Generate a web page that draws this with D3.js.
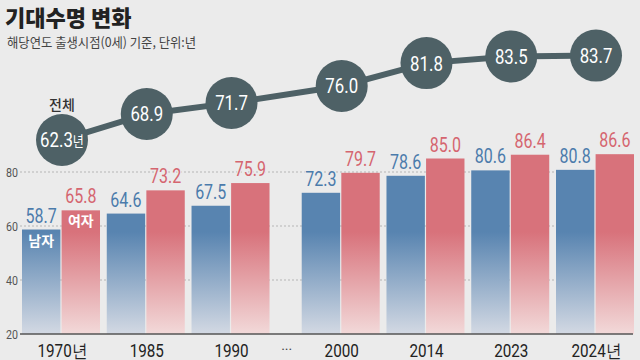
<!DOCTYPE html>
<html><head><meta charset="utf-8">
<script src="https://cdn.jsdelivr.net/npm/d3@7/dist/d3.min.js"></script>
<style>
html,body{margin:0;padding:0;background:#ebebeb;}
svg{display:block;}
</style></head>
<body>
<script>
const years = ["1970년","1985","1990","2000","2014","2023","2024년"];
const male = [58.7,64.6,67.5,72.3,78.6,80.6,80.8];
const female = [65.8,73.2,75.9,79.7,85.0,86.4,86.6];
const total = [62.3,68.9,71.7,76.0,81.8,83.5,83.7];
const yTicks = [20,40,60,80];

const W=640,H=360;
const NUM = "Roboto,'Liberation Sans',sans-serif";
const KR = "'Noto Sans CJK KR','Noto Sans',sans-serif";
const svg = d3.select("body").append("svg").attr("width",W).attr("height",H);
svg.append("rect").attr("width",W).attr("height",H).attr("fill","#ebebeb");

// scales
const breakAfter = 2, breakSize = 0.3;
const xi = d3.scaleLinear().domain([0, 6 + breakSize]).range([62, 596]);
const xc = i => xi(i + (i > breakAfter ? breakSize : 0));
const xSub = d3.scaleBand().domain(["m","f"]).range([-40,38]).paddingInner(0.03);
const y = d3.scaleLinear().domain([20,80]).range([334,172]);
const yT = d3.scaleLinear().domain([60,90]).range([149,30.8]);

const tr = (x,yy,s) => `translate(${x},${yy}) scale(${s},1)`;

// gradients
const defs = svg.append("defs");
function grad(id, top, bottom){
  const g = defs.append("linearGradient").attr("id",id)
    .attr("gradientUnits","userSpaceOnUse").attr("x1",0).attr("x2",0).attr("y1",232).attr("y2",334);
  g.append("stop").attr("offset","0").attr("stop-color",top);
  g.append("stop").attr("offset","1").attr("stop-color",bottom);
}
grad("gm","#5884b0","#d3d9e3");
grad("gf","#d8727b","#f2d9d9");

// title
svg.append("text").attr("x",5).attr("y",26).attr("font-family",KR).attr("font-weight",900)
  .attr("font-size",22).attr("fill","#222").text("기대수명 변화");
svg.append("text").attr("transform",tr(7,47,0.95)).attr("font-family",KR)
  .attr("font-size",13).attr("fill","#444").text("해당연도 출생시점(0세) 기준, 단위:년");

// grid
svg.append("g").selectAll("line").data(yTicks.filter(t=>t>20)).join("line")
  .attr("x1",20).attr("x2",633).attr("y1",d=>y(d)).attr("y2",d=>y(d))
  .attr("stroke","#b5b5b5").attr("stroke-width",1).attr("stroke-dasharray","2,2");
svg.append("g").selectAll("text").data(yTicks).join("text")
  .attr("transform",d=>tr(18,y(d)+4.5,0.82)).attr("text-anchor","end")
  .attr("font-family",NUM).attr("font-size",13).attr("fill","#555").text(d=>d);

// bars
const groups = svg.append("g").selectAll("g").data(years).join("g")
  .attr("transform",(d,i)=>`translate(${xc(i)},0)`);
groups.append("rect").attr("x",xSub("m")).attr("width",xSub.bandwidth())
  .attr("y",(d,i)=>y(male[i])).attr("height",(d,i)=>y(20)-y(male[i])).attr("fill","url(#gm)");
groups.append("rect").attr("x",xSub("f")).attr("width",xSub.bandwidth())
  .attr("y",(d,i)=>y(female[i])).attr("height",(d,i)=>y(20)-y(female[i])).attr("fill","url(#gf)");
groups.append("text").attr("transform",(d,i)=>tr(xSub("m")+xSub.bandwidth()/2, y(male[i])-7, 0.8))
  .attr("text-anchor","middle").attr("font-family",NUM).attr("font-size",20)
  .attr("fill","#4b7bab").attr("stroke","#ebebeb").attr("stroke-width",3).attr("paint-order","stroke")
  .text((d,i)=>male[i].toFixed(1));
groups.append("text").attr("transform",(d,i)=>tr(xSub("f")+xSub.bandwidth()/2, y(female[i])-7, 0.8))
  .attr("text-anchor","middle").attr("font-family",NUM).attr("font-size",20)
  .attr("fill","#d5656f").attr("stroke","#ebebeb").attr("stroke-width",3).attr("paint-order","stroke")
  .text((d,i)=>female[i].toFixed(1));

// series labels inside first bars
svg.append("text").attr("x",xc(0)+xSub("m")+xSub.bandwidth()/2).attr("y",y(male[0])+16)
  .attr("text-anchor","middle").attr("font-family",KR).attr("font-weight",700)
  .attr("font-size",14).attr("fill","#fff").text("남자");
svg.append("text").attr("x",xc(0)+xSub("f")+xSub.bandwidth()/2).attr("y",y(female[0])+16)
  .attr("text-anchor","middle").attr("font-family",KR).attr("font-weight",700)
  .attr("font-size",14).attr("fill","#fff").text("여자");

// baseline
svg.append("line").attr("x1",20).attr("x2",633).attr("y1",y(20)).attr("y2",y(20))
  .attr("stroke","#555").attr("stroke-width",1.5);

// x labels
svg.append("g").selectAll("text").data(years).join("text")
  .attr("transform",(d,i)=>tr(xc(i),357,0.87)).attr("text-anchor","middle")
  .attr("font-family",NUM).attr("font-size",17.5).attr("fill","#222").text(d=>d);
svg.append("text").attr("x",xi(breakAfter+0.5+breakSize/2)).attr("y",355).attr("text-anchor","middle")
  .attr("font-family",NUM).attr("font-size",14).attr("fill","#444").text("···");

// total line
const line = d3.line().x((d,i)=>xc(i)).y(d=>yT(d));
svg.append("path").datum(total).attr("d",line).attr("fill","none")
  .attr("stroke","#4e6166").attr("stroke-width",6);
const pts = svg.append("g").selectAll("g").data(total).join("g")
  .attr("transform",(d,i)=>`translate(${xc(i)},${yT(d)})`);
pts.append("circle").attr("r",26).attr("fill","#4e6166");
const tt = pts.append("text").attr("text-anchor","middle").attr("transform","translate(0,7.5) scale(0.8,1)")
  .attr("font-family",NUM).attr("font-size",21).attr("fill","#fff");
tt.append("tspan").text(d=>d.toFixed(1));
tt.filter((d,i)=>i===0).append("tspan").attr("font-family",KR).attr("font-size",15).text("년");

svg.append("text").attr("x",xc(0)).attr("y",yT(total[0])-30).attr("text-anchor","middle")
  .attr("font-family",KR).attr("font-weight",500).attr("font-size",14).attr("fill","#333").text("전체");
</script>
</body></html>
